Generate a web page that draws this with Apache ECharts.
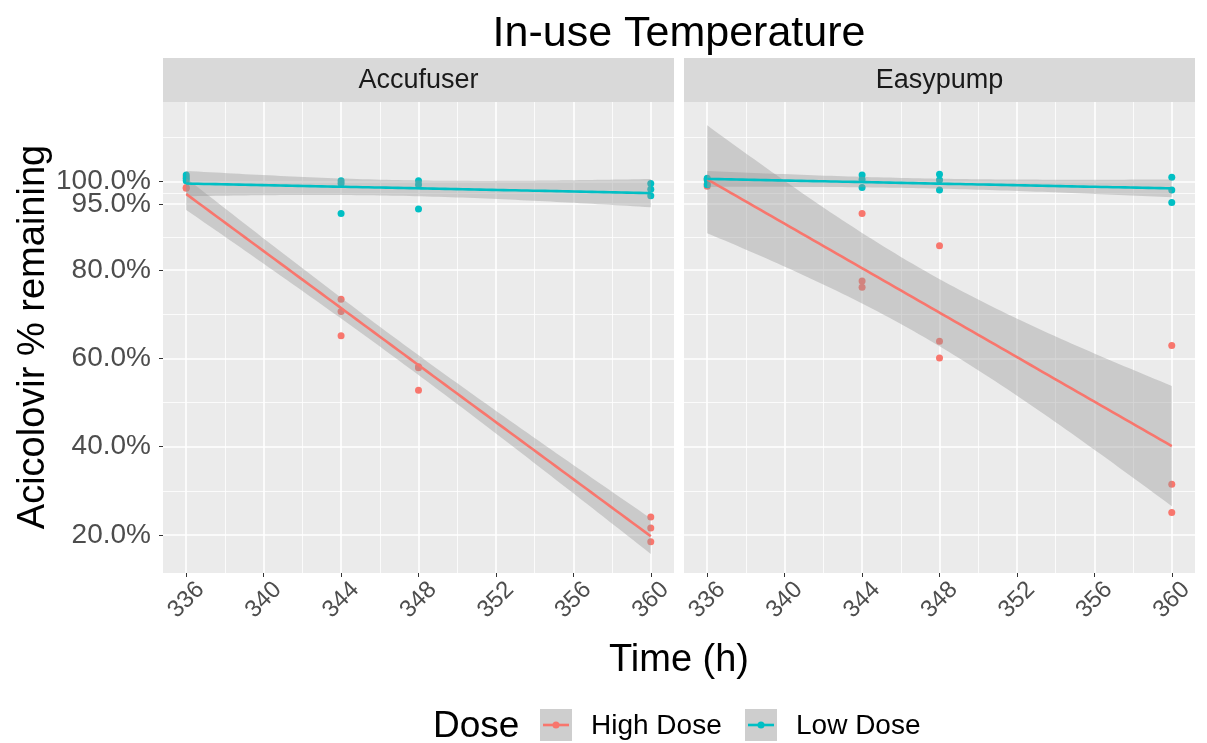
<!DOCTYPE html>
<html>
<head>
<meta charset="utf-8">
<script src="https://cdn.jsdelivr.net/npm/echarts@6/dist/echarts.min.js"></script>
<style>
html,body{margin:0;padding:0;background:#fff;}
#c{width:1207px;height:743px;}
</style>
</head>
<body>
<div id="c"></div>
<script>
// ---------------- data ----------------
const chartTitle = 'In-use Temperature';
const panels = ['Accufuser', 'Easypump'];
const doses = ['High Dose', 'Low Dose'];
const timeHours = [336, 336, 336, 344, 344, 344, 348, 348, 348, 360, 360, 360];
const accufuserHigh = [101.1, 98.7, 98.5, 73.4, 70.6, 65.1, 58.1, 57.9, 52.8, 24.1, 21.6, 18.5];
const accufuserLow  = [101.5, 100.8, 100.2, 100.2, 99.6, 92.8, 100.2, 99.3, 93.8, 99.6, 98.3, 96.8];
const easypumpHigh  = [100.5, 99.5, 99.0, 92.8, 77.5, 76.1, 85.5, 63.9, 60.1, 62.9, 31.5, 25.1];
const easypumpLow   = [100.8, 100.4, 99.3, 101.5, 100.5, 98.7, 101.7, 100.4, 98.1, 101.0, 98.1, 95.3];
const xTicks = [336, 340, 344, 348, 352, 356, 360];
const xMinor = [338, 342, 346, 350, 354, 358];
const yTicks = [20, 40, 60, 80, 95, 100];
const yTicksMain = [20, 40, 60, 80, 100];
const yTicksExtra = [95];
const yMinor = [30, 50, 70, 87.5, 97.5, 110];
const doseColors = ['#F8766D', '#00BFC4'];

// ---------------- helpers ----------------
const FONT = "'Liberation Sans', Arial, sans-serif";
const T975_DF10 = 2.228; // t quantile (0.975, df = n - 2 = 10)

function lmFit(xs, ys) {
  const n = xs.length;
  const mx = xs.reduce((a, b) => a + b, 0) / n;
  const my = ys.reduce((a, b) => a + b, 0) / n;
  let sxx = 0, sxy = 0;
  for (let i = 0; i < n; i++) { sxx += (xs[i] - mx) ** 2; sxy += (xs[i] - mx) * (ys[i] - my); }
  const b = sxy / sxx, a = my - b * mx;
  let sse = 0;
  for (let i = 0; i < n; i++) sse += (ys[i] - (a + b * xs[i])) ** 2;
  const s = Math.sqrt(sse / (n - 2));
  const xmin = Math.min(...xs), xmax = Math.max(...xs);
  const line = [], band = [];
  const steps = 80;
  for (let k = 0; k < steps; k++) {
    const x = xmin + (xmax - xmin) * k / (steps - 1);
    const f = a + b * x;
    const se = s * Math.sqrt(1 / n + (x - mx) ** 2 / sxx);
    line.push([x, f]);
    band.push([x, f - T975_DF10 * se, f + T975_DF10 * se]);
  }
  return { line, band };
}

const panelData = [[accufuserHigh, accufuserLow], [easypumpHigh, easypumpLow]];

const grids = [
  { left: 163, top: 102, width: 511, height: 471 },
  { left: 684, top: 102, width: 511, height: 471 }
];
const Y_MIN = 11.4, Y_MAX = 118.05;

const series = [];
const xAxes = [], yAxes = [];

function makeYAxis(gi, values, showLabels) {
  return {
    type: 'value', gridIndex: gi, min: Y_MIN, max: Y_MAX, position: 'left',
    axisLine: { show: false }, splitLine: { show: false },
    axisTick: { show: showLabels, customValues: values, length: 4, lineStyle: { color: '#333333', width: 1 } },
    axisLabel: {
      show: showLabels, customValues: values, fontSize: 28, color: '#4D4D4D', fontFamily: FONT, margin: 12,
      hideOverlap: false, formatter: v => v.toFixed(1) + '%'
    }
  };
}

grids.forEach((g, gi) => {
  g.show = true; g.backgroundColor = '#EBEBEB'; g.borderWidth = 0;
  xAxes.push({
    type: 'value', gridIndex: gi, min: 334.8, max: 361.2,
    axisLine: { show: false }, splitLine: { show: false },
    axisTick: { show: true, customValues: xTicks, length: 4, lineStyle: { color: '#333333', width: 1 } },
    axisLabel: {
      customValues: xTicks, rotate: 45, fontSize: 24, color: '#4D4D4D', fontFamily: FONT,
      margin: 27, align: 'center', verticalAlign: 'middle', hideOverlap: false
    }
  });
  yAxes.push(makeYAxis(gi, yTicksMain, gi === 0));
  // grid lines
  const ml = [];
  xMinor.forEach(v => ml.push({ xAxis: v, lineStyle: { color: '#FFFFFF', width: 0.8, type: 'solid' } }));
  yMinor.forEach(v => ml.push({ yAxis: v, lineStyle: { color: '#FFFFFF', width: 0.8, type: 'solid' } }));
  xTicks.forEach(v => ml.push({ xAxis: v, lineStyle: { color: '#FFFFFF', width: 1.6, type: 'solid' } }));
  yTicks.forEach(v => ml.push({ yAxis: v, lineStyle: { color: '#FFFFFF', width: 1.6, type: 'solid' } }));
  series.push({
    type: 'line', xAxisIndex: gi, yAxisIndex: gi, data: [], silent: true, z: 1,
    markLine: { silent: true, symbol: ['none', 'none'], label: { show: false }, animation: false, z: 1, data: ml }
  });
  // points
  panelData[gi].forEach((vals, di) => {
    series.push({
      name: doses[di], type: 'scatter', xAxisIndex: gi, yAxisIndex: gi, z: 5,
      symbolSize: 7, itemStyle: { color: doseColors[di], opacity: 1 },
      data: timeHours.map((t, i) => [t, vals[i]])
    });
  });
  // smooths
  panelData[gi].forEach((vals, di) => {
    const fit = lmFit(timeHours, vals);
    series.push({
      type: 'custom', xAxisIndex: gi, yAxisIndex: gi, z: 6, silent: true,
      data: fit.band,
      encode: { x: 0, y: [1, 2] },
      renderItem: (params, api) => {
        if (params.dataIndex !== 0) return null;
        const up = fit.band.map(p => api.coord([p[0], p[2]]));
        const lo = fit.band.map(p => api.coord([p[0], p[1]])).reverse();
        return {
          type: 'polygon',
          shape: { points: up.concat(lo) },
          style: { fill: 'rgba(153,153,153,0.4)', stroke: null }
        };
      }
    });
    series.push({
      name: doses[di], type: 'line', xAxisIndex: gi, yAxisIndex: gi, z: 6,
      data: fit.line, showSymbol: false, symbol: 'none', silent: true,
      lineStyle: { color: doseColors[di], width: 2.6 }
    });
  });
});
// extra left axis carrying the 95% break (overlaps 100% label, as in the source)
yAxes.push(makeYAxis(0, yTicksExtra, true));

// ---------------- decorations (strips, titles, legend) ----------------
const graphic = [];
grids.forEach((g, gi) => {
  graphic.push({ type: 'rect', left: g.left, top: 58, shape: { width: g.width, height: 44 }, style: { fill: '#D9D9D9' }, silent: true });
  graphic.push({ type: 'text', x: g.left + g.width / 2, y: 81, style: { text: panels[gi], fontSize: 27, fill: '#1A1A1A', fontFamily: FONT, align: 'center', verticalAlign: 'middle' }, silent: true });
});
graphic.push({ type: 'text', x: 679, y: 34, style: { text: chartTitle, fontSize: 43, fill: '#000', fontFamily: FONT, align: 'center', verticalAlign: 'middle' } });
graphic.push({ type: 'text', x: 679, y: 661, style: { text: 'Time (h)', fontSize: 38, fill: '#000', fontFamily: FONT, align: 'center', verticalAlign: 'middle' } });
graphic.push({ type: 'text', x: 34, y: 337, rotation: Math.PI / 2, style: { text: 'Acicolovir % remaining', fontSize: 38, fill: '#000', fontFamily: FONT, align: 'center', verticalAlign: 'middle' } });
// legend
graphic.push({ type: 'text', x: 433, y: 727, style: { text: 'Dose', fontSize: 37, fill: '#000', fontFamily: FONT, align: 'left', verticalAlign: 'middle' } });
const keyX = [540, 745], labX = [591, 796];
doses.forEach((d, di) => {
  graphic.push({ type: 'rect', left: keyX[di], top: 709, shape: { width: 32, height: 32 }, style: { fill: '#CECECE' }, silent: true });
  graphic.push({ type: 'line', shape: { x1: keyX[di] + 3, y1: 725, x2: keyX[di] + 29, y2: 725 }, style: { stroke: doseColors[di], lineWidth: 2.6 }, silent: true });
  graphic.push({ type: 'circle', shape: { cx: keyX[di] + 16, cy: 725, r: 3.5 }, style: { fill: doseColors[di] }, silent: true });
  graphic.push({ type: 'text', x: labX[di], y: 726, style: { text: d, fontSize: 28, fill: '#000', fontFamily: FONT, align: 'left', verticalAlign: 'middle' } });
});

const chart = echarts.init(document.getElementById('c'), null, { renderer: 'canvas' });
chart.setOption({
  animation: false,
  backgroundColor: '#FFFFFF',
  grid: grids,
  xAxis: xAxes,
  yAxis: yAxes,
  series: series,
  graphic: graphic
});
</script>
</body>
</html>
